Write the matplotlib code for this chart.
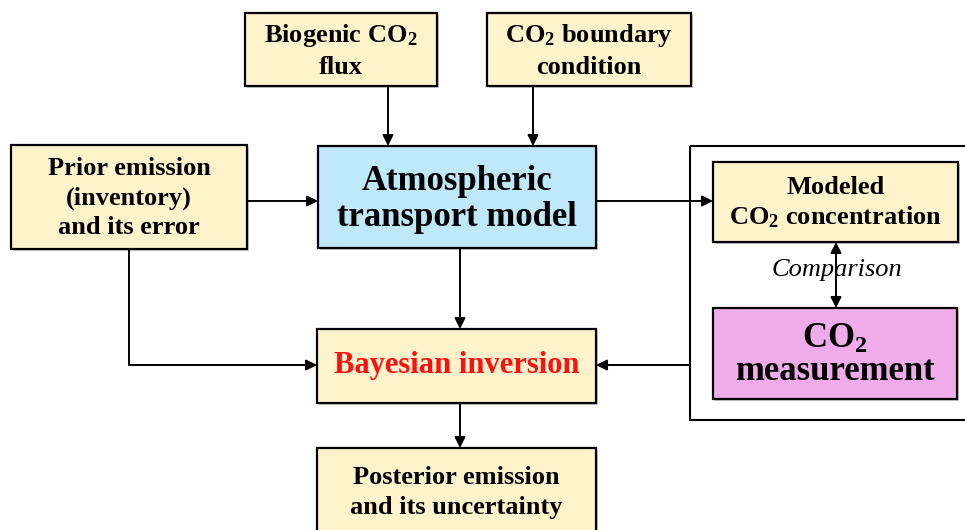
import matplotlib
matplotlib.use("Agg")
import matplotlib.pyplot as plt
from matplotlib.patches import Rectangle

plt.rcParams['font.family'] = ['Liberation Serif', 'DejaVu Serif']
plt.rcParams['mathtext.default'] = 'regular'

# box labels
labels = [
    "Biogenic CO$_2$\nflux",
    "CO$_2$ boundary\ncondition",
    "Prior emission\n(inventory)\nand its error",
    "Atmospheric\ntransport model",
    "Modeled\nCO$_2$ concentration",
    "CO$_2$\nmeasurement",
    "Bayesian inversion",
    "Posterior emission\nand its uncertainty",
]
comparison_label = "Comparison"

# box geometry in pixels: x0, y0, x1, y1
boxes = [
    (245, 13, 437, 86),
    (487, 13, 691, 86),
    (11, 145, 247, 249),
    (318, 146, 596, 248),
    (713, 162, 958, 242),
    (713, 308, 957, 399),
    (317, 329, 596, 403),
    (317, 448, 596, 545),
]
fills = ["#FFF3CC", "#FFF3CC", "#FFF3CC", "#BFE8FB", "#FFF3CC", "#EFABEA",
         "#FFF3CC", "#FFF3CC"]
sizes = [19, 19, 19, 25, 19, 25, 22, 19]
spacing = [1.4, 1.4, 1.34, 1.12, 1.32, 0.95, 1.0, 1.34]
colors = ["black"] * 6 + ["#FF1010", "black"]
text_dy = [1, 1, 1, 2, 1, 2, 0, -4]

fig = plt.figure(figsize=(9.65, 5.30), dpi=100)
ax = fig.add_axes([0, 0, 1, 1])
ax.set_xlim(0, 965)
ax.set_ylim(530, 0)
ax.axis('off')

# outer frame around the comparison block
ax.add_patch(Rectangle((690, 146), 300, 274, fill=False, ec="black", lw=1.5))

for (x0, y0, x1, y1), lab, fc, fs, ls, col, dy in zip(
        boxes, labels, fills, sizes, spacing, colors, text_dy):
    ax.add_patch(Rectangle((x0 + 1.5, y0 + 1.5), x1 - x0, y1 - y0,
                           fc="#9a9a9a", ec="none", alpha=0.5))
    ax.add_patch(Rectangle((x0, y0), x1 - x0, y1 - y0, fc=fc, ec="black",
                           lw=1.6))
    ax.text((x0 + x1) / 2, (y0 + y1) / 2 + dy, lab, ha="center", va="center",
            fontsize=fs, fontweight="bold", color=col, linespacing=ls)


def arrow(p0, p1, style="-|>"):
    ax.annotate("", xy=p1, xytext=p0,
                arrowprops=dict(arrowstyle=style, color="black", lw=1.4,
                                mutation_scale=16, shrinkA=0, shrinkB=0))


def line(xs, ys):
    ax.plot(xs, ys, color="black", lw=1.4, solid_capstyle="butt")


arrow((388, 86), (388, 146))
arrow((533, 86), (533, 146))
arrow((247, 201), (318, 201))
arrow((596, 201), (713, 201))
arrow((460, 248), (460, 329))
line([129, 129], [249, 365])
arrow((129, 365), (317, 365))
arrow((690, 365), (596, 365))
arrow((460, 403), (460, 448))
arrow((836, 242), (836, 308), style="<|-|>")

ax.text(837, 270, comparison_label, ha="center", va="center", fontsize=19,
        fontstyle="italic", color="black")

fig.savefig("out.png", dpi=100)
